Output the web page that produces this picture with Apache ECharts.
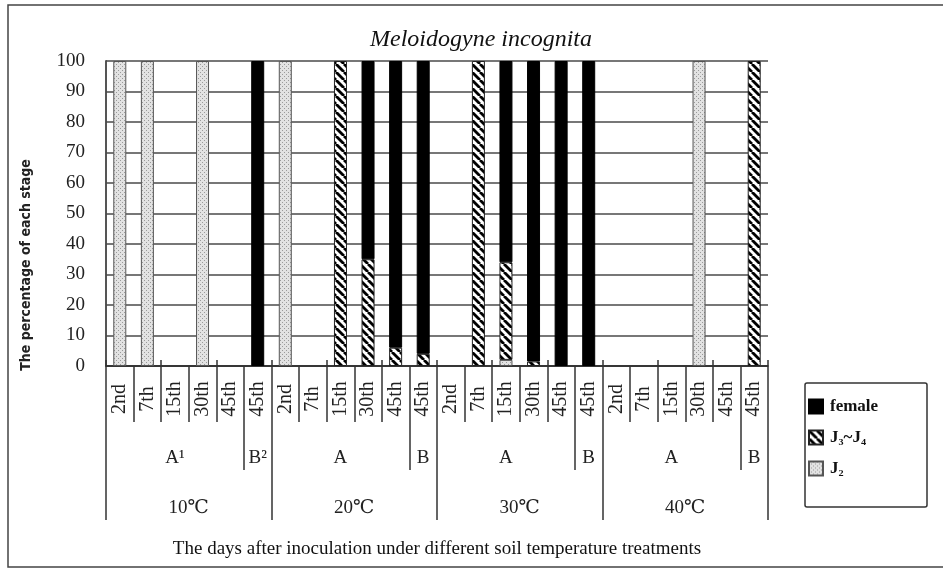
<!DOCTYPE html>
<html><head><meta charset="utf-8">
<script src="https://cdn.jsdelivr.net/npm/echarts@6/dist/echarts.min.js"></script>
<style>html,body{margin:0;padding:0;background:#fff}#c{width:943px;height:568px}</style>
</head><body><div id="c"></div><script>
// ---------- data ----------
const temps = ['10℃', '20℃', '30℃', '40℃'];
const days = ['2nd','7th','15th','30th','45th','45th',
              '2nd','7th','15th','30th','45th','45th',
              '2nd','7th','15th','30th','45th','45th',
              '2nd','7th','15th','30th','45th','45th'];
const groupLabels = ['A¹','B²','A','B','A','B','A','B'];
const groupSpans = [5,1,5,1,5,1,5,1];
const yTicks = [0,10,20,30,40,50,60,70,80,90,100];
const seriesNames = ['female','J₃~J₄','J₂'];
const j2     = [100,100,0,100,0,0,   100,0,0,0,0,0,     0,0,2,0,0,0,       0,0,0,100,0,0];
const j3j4   = [0,0,0,0,0,0,         0,0,100,35,6,4,    0,100,32,1.5,0,0,  0,0,0,0,0,100];
const female = [0,0,0,0,0,100,       0,0,0,65,94,96,    0,0,66,98.5,100,100, 0,0,0,0,0,0];
const titleText = 'Meloidogyne incognita';
const xName = 'The days after inoculation under different soil temperature treatments';
const yName = 'The percentage of each stage';

// ---------- derived ----------
const serif = "'Liberation Serif','DejaVu Serif','Noto Sans CJK TC',serif";
const ids = days.map((d,i)=> i + '|' + d);
const groupCenters = [], groupBounds = [];
let acc = 0;
groupSpans.forEach(s => { groupCenters.push(acc + s/2); acc += s; groupBounds.push(acc); });
const bBounds = groupBounds.filter((b,i)=> i % 2 === 0); // A|B boundaries
const tempSize = days.length / temps.length;
const tempBounds = temps.map((t,i)=> i*tempSize).concat([days.length]);
const tempCenters = temps.map((t,i)=> i*tempSize + tempSize/2);

function pat(kind){
  const c = document.createElement('canvas');
  const ctx = c.getContext('2d');
  if (kind === 'hatch') {
    c.width = 8; c.height = 8;
    ctx.fillStyle = '#fff'; ctx.fillRect(0,0,8,8);
    ctx.strokeStyle = '#000'; ctx.lineWidth = 2.8;
    [-8,0,8].forEach(o => { ctx.beginPath(); ctx.moveTo(o,0); ctx.lineTo(o+8,8); ctx.stroke(); });
  } else {
    c.width = 4; c.height = 4;
    ctx.fillStyle = '#e2e2e2'; ctx.fillRect(0,0,4,4);
    ctx.fillStyle = '#9a9a9a'; ctx.fillRect(0,0,1,1); ctx.fillRect(2,2,1,1);
  }
  return { image: c, repeat: 'repeat' };
}
const nz = a => a.map(v => v === 0 ? null : v);

const chart = echarts.init(document.getElementById('c'), null, {renderer:'canvas'});
const barCommon = { type:'bar', stack:'s', barWidth:13, xAxisIndex:0, yAxisIndex:0,
  itemStyle:{ borderColor:'#222', borderWidth:1 }, emphasis:{disabled:true} };

chart.setOption({
  animation:false,
  backgroundColor:'#fff',
  title:[
    { text:titleText, left:481, top:28, textAlign:'center', padding:0,
      textStyle:{ fontFamily:serif, fontStyle:'italic', fontWeight:'normal', fontSize:24, color:'#111' } },
    { text:xName, left:437, top:540, textAlign:'center', padding:0,
      textStyle:{ fontFamily:serif, fontWeight:'normal', fontSize:19, color:'#111' } }
  ],
  grid:{ left:106, right:175, top:61, bottom:202 },
  legend:{ orient:'vertical', left:808, top:398, padding:0, itemWidth:14, itemHeight:14, itemGap:14,
    icon:'rect', data:seriesNames,
    textStyle:{ fontFamily:serif, fontWeight:'bold', fontSize:17, color:'#111', lineHeight:17, padding:[0,0,0,2] } },
  xAxis:[
    { type:'category', data:ids, position:'bottom',
      axisLine:{ lineStyle:{ color:'#222', width:1.5 } },
      axisTick:{ show:true, length:56, lineStyle:{ color:'#333', width:1.5 } },
      axisLabel:{ interval:0, rotate:90, align:'center', verticalAlign:'middle', margin:33,
        fontFamily:serif, fontSize:20, color:'#222', formatter:(v,i)=> days[i] },
      splitLine:{show:false} },
    { type:'category', data:ids, position:'bottom',
      axisLine:{show:false}, axisLabel:{show:false},
      axisTick:{ show:true, inside:true, length:6, lineStyle:{ color:'#333', width:1.5 } } },
    { type:'value', min:0, max:days.length, position:'bottom',
      axisLine:{show:false}, splitLine:{show:false},
      axisTick:{ show:true, customValues:bBounds, length:104, lineStyle:{ color:'#333', width:1.5 } },
      axisLabel:{ customValues:groupCenters, verticalAlign:'middle', margin:92,
        fontFamily:serif, fontSize:19, color:'#222',
        formatter: v => groupLabels[groupCenters.indexOf(v)] } },
    { type:'value', min:0, max:days.length, position:'bottom',
      axisLine:{show:false}, splitLine:{show:false},
      axisTick:{ show:true, customValues:tempBounds, length:154, lineStyle:{ color:'#333', width:1.5 } },
      axisLabel:{ customValues:tempCenters, verticalAlign:'middle', margin:142,
        fontFamily:serif, fontSize:19, color:'#222',
        formatter: v => temps[tempCenters.indexOf(v)] } }
  ],
  yAxis:[
    { type:'value', min:yTicks[0], max:yTicks[yTicks.length-1], interval:yTicks[1]-yTicks[0],
      axisLine:{ show:true, lineStyle:{ color:'#222', width:1.5 } },
      axisTick:{show:false},
      axisLabel:{ margin:21, fontFamily:serif, fontSize:19, color:'#222' },
      splitLine:{ lineStyle:{ color:'#4a4a4a', width:1.5 } } },
    { type:'value', position:'right', min:0, max:100,
      axisLine:{ show:true, lineStyle:{ color:'#555', width:1.5 } },
      axisTick:{show:false}, axisLabel:{show:false}, splitLine:{show:false} }
  ],
  series:[
    Object.assign({}, barCommon, { name:seriesNames[2], data:nz(j2),
      itemStyle:{ color:pat('dots'), borderColor:'#555', borderWidth:1 } }),
    Object.assign({}, barCommon, { name:seriesNames[1], data:nz(j3j4),
      itemStyle:{ color:pat('hatch'), borderColor:'#222', borderWidth:1 } }),
    Object.assign({}, barCommon, { name:seriesNames[0], data:nz(female),
      itemStyle:{ color:'#000', borderColor:'#000', borderWidth:1 } })
  ],
  graphic:[
    { type:'rect', silent:true, z:-10, shape:{ x:8, y:5, width:1000, height:562 },
      style:{ fill:null, stroke:'#444', lineWidth:1.5 } },
    { type:'rect', silent:true, shape:{ x:805, y:383, width:122, height:124, r:2 },
      style:{ fill:null, stroke:'#333', lineWidth:1.5 } },
    { type:'text', silent:true, x:26, y:265, rotation:Math.PI/2,
      style:{ text:yName, fontFamily:"'Liberation Sans Narrow','DejaVu Sans Condensed',sans-serif",
        fontSize:14, fontWeight:'bold', fill:'#222', align:'center', verticalAlign:'middle' } }
  ]
});
</script></body></html>
